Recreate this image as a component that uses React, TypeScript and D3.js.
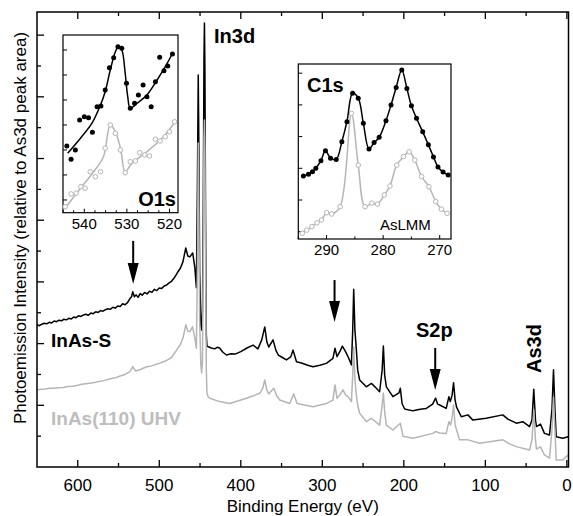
import React from 'react';
import * as d3 from 'd3';

// survey spectra: [binding energy (eV), intensity (arb.)]
const inasS: [number, number][] = [
  [650, 2.61], [647, 2.58], [644, 2.63], [641, 2.66], [638, 2.64], [635, 2.69], [632, 2.67], [629, 2.73], [626, 2.71], [623, 2.76],
  [620, 2.74], [617, 2.79], [614, 2.77], [611, 2.82], [608, 2.8], [605, 2.86], [602, 2.84], [599, 2.9], [596, 2.88], [593, 2.93],
  [590, 2.95], [587, 2.92], [584, 2.99], [581, 2.97], [578, 3.03], [575, 3.01], [572, 3.07], [569, 3.05], [566, 3.1], [563, 3.13],
  [560, 3.11], [557, 3.18], [554, 3.15], [551, 3.22], [548, 3.2], [545, 3.29], [542, 3.26], [539, 3.33], [536, 3.46], [534, 3.52],
  [532.5, 3.68], [530.5, 3.52], [528.5, 3.58], [526, 3.5], [523.5, 3.62], [521, 3.57], [518, 3.66], [515, 3.61], [512, 3.7],
  [509, 3.66], [506, 3.76], [503, 3.72], [500, 3.8], [497, 3.79], [494, 3.87], [491, 3.9], [488, 3.97], [485, 4.02], [482, 4.12],
  [479.5, 4.22], [477, 4.33], [474, 4.45], [471, 4.65], [467.5, 5.1], [465, 4.84], [462.5, 4.81], [459, 4.94], [456.4, 4.47],
  [454.5, 3.81], [453.2, 7.2], [452.2, 10.71], [451.4, 8.3], [450.5, 4.38], [449, 2.61], [448, 2.44],
  [447, 3.09], [446, 6.65], [445.2, 11.19], [444.6, 12.39], [444, 10.87], [443.2, 6.01], [442.3, 2.28], [441.5, 1.92], [440, 1.9],
  [436, 1.86], [432, 1.83], [429, 1.88], [426, 1.86], [422, 1.72], [417.5, 1.63], [412, 1.67], [407, 1.66], [400, 1.74],
  [393, 1.85], [385, 1.95], [379, 1.83], [374.3, 2.12], [370.6, 2.54],
  [368, 2.05], [365.7, 1.89], [360.4, 2.12], [357, 1.79], [354, 1.63], [349, 1.55], [344, 1.47], [338.7, 1.57], [335.9, 1.79],
  [331.7, 1.41], [325.6, 1.37], [318, 1.3], [311.4, 1.25], [303, 1.3], [295, 1.36], [287, 1.52], [284.4, 1.85], [282, 1.58],
  [278.7, 1.73], [275.4, 1.92], [271.3, 1.73],
  [268.5, 1.58], [264.3, 1.31], [262.7, 2.44], [261.5, 3.76], [260, 2.44], [258.2, 1.79], [256.6, 1.14], [254.2, 0.82], [246, 0.6],
  [239.8, 0.71], [233.7, 0.55], [229.7, 0.44], [226.6, 1.14], [225.1, 1.92], [223.5, 0.98], [221.4, 0.6], [213.4, 0.28], [206, 0.4],
  [204.3, 0.55], [202.1, 0.05], [199, -0.12], [188.8, -0.18], [180, -0.13], [172.4, -0.1], [164.7, 0.04], [161, 0.23], [158.6, 0.04],
  [156, 0.01], [148, -0.1], [144.7, 0.28], [143, 0.12], [140.8, 0.33], [139, 0.73], [137.1, 0.17], [135.3, -0.06], [129.5, -0.37],
  [121.4, -0.31], [115.3, -0.48], [99, -0.42], [78.6, -0.31], [72.4, -0.45], [62, -0.58], [54, -0.53], [45.8, -0.69], [42.8, -0.48],
  [40.6, 0.52], [38.5, -0.48], [37.3, -0.69], [32.4, -0.61], [27.5, -0.91], [21.3, -0.96], [18.3, -0.15], [16.4, 1.15], [14.6, -0.15],
  [13.1, -1.02], [5, -1.07], [-1.5, -1.02],
];

const inasUHV: [number, number][] = [
  [650, 0.5], [645, 0.52], [640, 0.53], [635, 0.55], [630, 0.55], [624, 0.57], [618, 0.58], [612, 0.61], [606, 0.62], [600, 0.65],
  [595, 0.68], [590, 0.7], [583, 0.72], [576, 0.76], [568, 0.8], [560, 0.86], [554, 0.89], [548, 0.95], [542, 1.0], [536, 1.09],
  [532.5, 1.25], [529, 1.11], [524, 1.15], [520, 1.2], [515, 1.25], [510, 1.27], [505, 1.32], [500, 1.36], [495, 1.41], [490, 1.47],
  [485, 1.55], [478.8, 1.79], [474, 1.98], [471, 2.18],
  [467.4, 2.61], [465, 2.4], [462.5, 2.39], [459.2, 2.55], [456.4, 2.18], [454.5, 1.85], [453.2, 4.5], [452.2, 8.5], [451.4, 6.3],
  [450.5, 2.77], [449, 1.31], [448, 1.05], [447, 1.47], [446, 5.04], [445.2, 8.6], [444.6, 9.25], [444, 8.28], [443.2, 4.71],
  [442.3, 1.15], [441.5, 0.4], [440, 0.27], [438, 0.23], [426, 0.12], [413.6, 0.06], [393, 0.23], [385.3, 0.3], [376.7, 0.39],
  [373, 0.56], [370.6, 0.82], [368.1, 0.5], [365.7, 0.37], [359.6, 0.55], [355.9, 0.3], [352.2, 0.17], [340, 0.06], [335, 0.37],
  [331, 0.06], [311.4, -0.05], [295, 0.06], [287, 0.17], [284.4, 0.66], [282, 0.23], [278.7, 0.33], [274.6, 0.5], [271.3, 0.33],
  [268.5, 0.28], [264.3, 0.12], [262.7, 0.98], [261.5, 1.89], [260, 0.82], [258.2, 0.33], [256.6, 0.01], [254.2, -0.26], [246, -0.53],
  [239.8, -0.42], [229.7, -0.64], [226.6, 0.01], [225.1, 0.4], [223.5, -0.22], [221.4, -0.64], [213.4, -0.8], [204.3, -0.58],
  [201.1, -1.0], [188.8, -1.07], [164.3, -0.91], [161, -0.85], [156, -0.9], [148, -0.91], [144.7, -0.53], [142.6, -0.64],
  [140.8, -0.41], [139, 0.01], [137.1, -0.64], [131.6, -1.12], [121.4, -1.12], [107, -1.23], [78.6, -1.12], [70.3, -1.25],
  [62, -1.34], [45.8, -1.45], [42.8, -1.12], [40.6, -0.15], [38.5, -1.12], [37.3, -1.42], [32.4, -1.35], [27.5, -1.61], [21.3, -1.71],
  [18.3, -0.8], [16.4, 0.27], [14.6, -0.8], [13.1, -1.77], [5, -1.77], [-1.5, -1.61],
];

// O1s inset
const o1sBlackDots: [number, number][] = [
  [544.1, 2.16], [543.1, 1.63], [542.1, 2.0], [541.1, 3.2], [540.0, 3.33], [539.0, 3.29], [538.1, 2.71], [537.0, 3.73], [536.1, 3.76],
  [535.1, 4.4], [534.1, 5.29], [533.1, 5.69], [532.1, 6.13], [531.2, 6.07], [530.1, 4.67], [529.2, 3.67], [528.2, 3.87], [527.3, 4.2],
  [526.2, 4.6], [525.3, 4.13], [524.3, 3.73], [523.3, 4.73], [522.3, 5.71], [521.3, 5.17], [520.4, 5.36], [519.3, 5.84],
];
const o1sBlackFit: [number, number][] = [
  [543.9, 1.87], [540.9, 2.47], [538.2, 3.07], [536.2, 3.8], [535.1, 4.33], [533.9, 5.2], [532.7, 5.93], [532, 6.13], [531.2, 6.0],
  [530.4, 5.07], [529.8, 4.13], [529.2, 3.67], [527.6, 3.87], [525.3, 4.2], [522.9, 4.8], [521, 5.33], [519.2, 5.89],
];
const o1sGreyDots: [number, number][] = [
  [544.5, -0.27], [543.1, 0.24], [541.9, 0.27], [540.8, 0.53], [539.8, 0.47], [538.6, 1.13], [537.4, 0.93], [536.2, 1.13],
  [535.1, 2.07], [533.9, 3.0], [532.7, 2.67], [531.5, 2.0], [530.4, 1.09], [529.2, 1.53], [528.0, 1.56], [527.0, 1.89],
  [525.8, 1.8], [524.7, 1.76], [523.3, 2.43], [522.2, 2.36], [521.0, 2.53], [520.0, 2.73], [518.8, 3.13],
];
const o1sGreyFit: [number, number][] = [
  [544.5, -0.33], [540.9, 0.47], [537.8, 1.13], [535.5, 1.73], [533.9, 3.0], [532.7, 2.73], [531.5, 2.07], [530.4, 1.13],
  [528.8, 1.47], [525.3, 1.93], [521.4, 2.53], [518.4, 3.2],
];

// C1s inset
const c1sBlackDots: [number, number][] = [
  [294.1, 1.76], [293.2, 1.81], [292.5, 1.89], [291.9, 2.0], [291.0, 2.24], [290.2, 2.55], [289.3, 2.32], [288.3, 2.28],
  [287.3, 2.84], [286.4, 3.47], [285.4, 4.37], [284.4, 4.21], [283.5, 3.42], [282.5, 2.61], [281.6, 2.81], [280.7, 2.98],
  [279.5, 3.5], [278.6, 4.0], [277.7, 4.55], [276.7, 5.1], [275.8, 4.52], [275.0, 3.97], [274.1, 3.58], [273.0, 3.15],
  [272.0, 2.74], [271.1, 2.36], [270.3, 2.04], [269.4, 1.88], [268.5, 1.79],
];
const c1sGreyDots: [number, number][] = [
  [294.3, -0.05], [293.5, 0.05], [292.6, 0.16], [291.7, 0.28], [290.9, 0.37], [290.0, 0.6], [289.1, 0.56], [287.6, 0.79],
  [285.6, 3.73], [284.4, 2.1], [283.2, 0.79], [282.0, 0.9], [281.0, 0.87], [279.8, 1.16], [278.8, 1.44], [277.6, 2.1],
  [276.4, 2.37], [275.4, 2.52], [274.4, 2.26], [273.2, 1.74], [271.9, 1.42], [270.7, 0.95], [269.7, 0.71], [268.7, 0.58],
];

const mainXMajor = [600, 500, 400, 300, 200, 100, 0];
const mainXMinor = [550, 450, 350, 250, 150, 50];
const mainYTicks = d3.range(-1, 13);
const o1sXMajor = [540, 530, 520];
const c1sXMajor = [290, 280, 270];

const FONT = "Arial, 'Liberation Sans', Helvetica, sans-serif";
const BLACK = '#000';
const GREY = '#b5b5b5';

const W = 573;
const H = 516;
const plot = { left: 37, right: 568.5, top: 12, bottom: 467 };

const x = d3.scaleLinear().domain([650, -2]).range([plot.left, plot.right]);
const y = d3.scaleLinear().domain([-2, 12.75]).range([plot.bottom, plot.top]);

type Pt = [number, number];

function Inset({ box, xDomain, yDomain, xMajor, xMinorStep, yTicks, blackDots, greyDots, blackLine, greyLine }: any) {
  const sx = d3.scaleLinear().domain(xDomain).range([box.left, box.right]);
  const sy = d3.scaleLinear().domain(yDomain).range([box.bottom, box.top]);
  const ln = d3.line<Pt>().x(d => sx(d[0])).y(d => sy(d[1])).curve(d3.curveCatmullRom.alpha(0.5));
  const lo = Math.min(xDomain[0], xDomain[1]);
  const hi = Math.max(xDomain[0], xDomain[1]);
  const minor = d3.range(Math.ceil(lo / xMinorStep) * xMinorStep, hi + 0.001, xMinorStep);
  return (
    <g>
      <rect x={box.left} y={box.top} width={box.right - box.left} height={box.bottom - box.top} fill="#fff" stroke="#000" strokeWidth={1.2} />
      {minor.map((t: number) => (
        <line key={'m' + t} x1={sx(t)} x2={sx(t)} y1={box.bottom} y2={box.bottom - (xMajor.includes(t) ? 4 : 2.5)} stroke="#000" strokeWidth={1} />
      ))}
      {yTicks.map((t: number) => (
        <line key={'y' + t} x1={box.left} x2={box.left + 4} y1={sy(t)} y2={sy(t)} stroke="#000" strokeWidth={1} />
      ))}
      {xMajor.map((t: number) => (
        <text key={'l' + t} x={sx(t)} y={box.bottom + 16} textAnchor="middle" fontSize={15} fontFamily={FONT}>{t}</text>
      ))}
      <path d={ln(greyLine) || ''} fill="none" stroke={GREY} strokeWidth={1.5} />
      {greyDots.map((d: Pt, i: number) => (
        <circle key={'g' + i} cx={sx(d[0])} cy={sy(d[1])} r={2.3} fill="#fff" stroke={GREY} strokeWidth={1} />
      ))}
      <path d={ln(blackLine) || ''} fill="none" stroke={BLACK} strokeWidth={1.5} />
      {blackDots.map((d: Pt, i: number) => (
        <circle key={'b' + i} cx={sx(d[0])} cy={sy(d[1])} r={2.5} fill={BLACK} />
      ))}
    </g>
  );
}

function Arrow({ ev, from, to }: { ev: number; from: number; to: number }) {
  const ax = x(ev);
  const y0 = y(from);
  const y1 = y(to);
  return (
    <g>
      <line x1={ax} x2={ax} y1={y0} y2={y1 - 18} stroke="#000" strokeWidth={2} />
      <polygon points={`${ax},${y1} ${ax - 5.5},${y1 - 21} ${ax + 5.5},${y1 - 21}`} fill="#000" />
    </g>
  );
}

export default function App() {
  const spec = d3.line<Pt>().x(d => x(d[0])).y(d => y(d[1]));
  const bottomTicks = [...mainXMajor.map(t => ({ t, len: 7 })), ...mainXMinor.map(t => ({ t, len: 4 }))];

  return (
    <svg width={W} height={H} style={{ position: 'absolute', left: 0, top: 0, background: '#fff' }} fontFamily={FONT}>
      {/* spectra */}
      <path d={spec(inasS) || ''} fill="none" stroke={BLACK} strokeWidth={1.5} strokeLinejoin="round" />
      <path d={spec(inasUHV) || ''} fill="none" stroke={GREY} strokeWidth={1.5} strokeLinejoin="round" />

      {/* frame */}
      <rect x={plot.left} y={plot.top} width={plot.right - plot.left} height={plot.bottom - plot.top} fill="none" stroke="#000" strokeWidth={1.5} />
      {bottomTicks.map(({ t, len }) => (
        <g key={'x' + t}>
          <line x1={x(t)} x2={x(t)} y1={plot.bottom} y2={plot.bottom - len} stroke="#000" strokeWidth={1.3} />
          <line x1={x(t)} x2={x(t)} y1={plot.top} y2={plot.top + len} stroke="#000" strokeWidth={1.3} />
        </g>
      ))}
      {mainYTicks.map(t => (
        <line key={'y' + t} x1={plot.left} x2={plot.left + (t % 2 === 0 ? 7 : 4)} y1={y(t)} y2={y(t)} stroke="#000" strokeWidth={1.3} />
      ))}
      {mainXMajor.map(t => (
        <text key={'xl' + t} x={x(t)} y={491} textAnchor="middle" fontSize={17}>{t}</text>
      ))}
      <text x={(plot.left + plot.right) / 2} y={512} textAnchor="middle" fontSize={17}>Binding Energy (eV)</text>
      <text transform="translate(26,228) rotate(-90)" textAnchor="middle" fontSize={17}>
        Photoemission Intensity (relative to As3d peak area)
      </text>

      {/* insets */}
      <Inset
        box={{ left: 63, top: 35, right: 178, bottom: 212.7 }}
        xDomain={[545, 518]}
        yDomain={[-0.51, 6.6]}
        xMajor={o1sXMajor}
        xMinorStep={2.5}
        yTicks={d3.range(0, 7)}
        blackDots={o1sBlackDots}
        blackLine={o1sBlackFit}
        greyDots={o1sGreyDots}
        greyLine={o1sGreyFit}
      />
      <text x={176} y={206} textAnchor="end" fontSize={20} fontWeight="bold">O1s</text>

      <Inset
        box={{ left: 298.3, top: 64, right: 451, bottom: 239 }}
        xDomain={[295, 268]}
        yDomain={[-0.23, 5.29]}
        xMajor={c1sXMajor}
        xMinorStep={5}
        yTicks={d3.range(0, 6)}
        blackDots={c1sBlackDots}
        blackLine={c1sBlackDots}
        greyDots={c1sGreyDots}
        greyLine={c1sGreyDots}
      />
      <text x={307} y={92} fontSize={20} fontWeight="bold">C1s</text>
      <text x={380} y={230} fontSize={15}>AsLMM</text>

      {/* annotations */}
      <Arrow ev={532} from={5.33} to={3.93} />
      <Arrow ev={285} from={4.06} to={2.7} />
      <Arrow ev={161.5} from={1.86} to={0.5} />
      <text x={214} y={43} fontSize={20} fontWeight="bold">In3d</text>
      <text x={416} y={337} fontSize={20} fontWeight="bold">S2p</text>
      <text transform="translate(541,373) rotate(-90)" fontSize={20} fontWeight="bold">As3d</text>
      <text x={51} y={347} fontSize={19} fontWeight="bold" fill={BLACK}>InAs-S</text>
      <text x={51} y={425} fontSize={19} fontWeight="bold" fill="#bdbdbd">InAs(110) UHV</text>
    </svg>
  );
}
